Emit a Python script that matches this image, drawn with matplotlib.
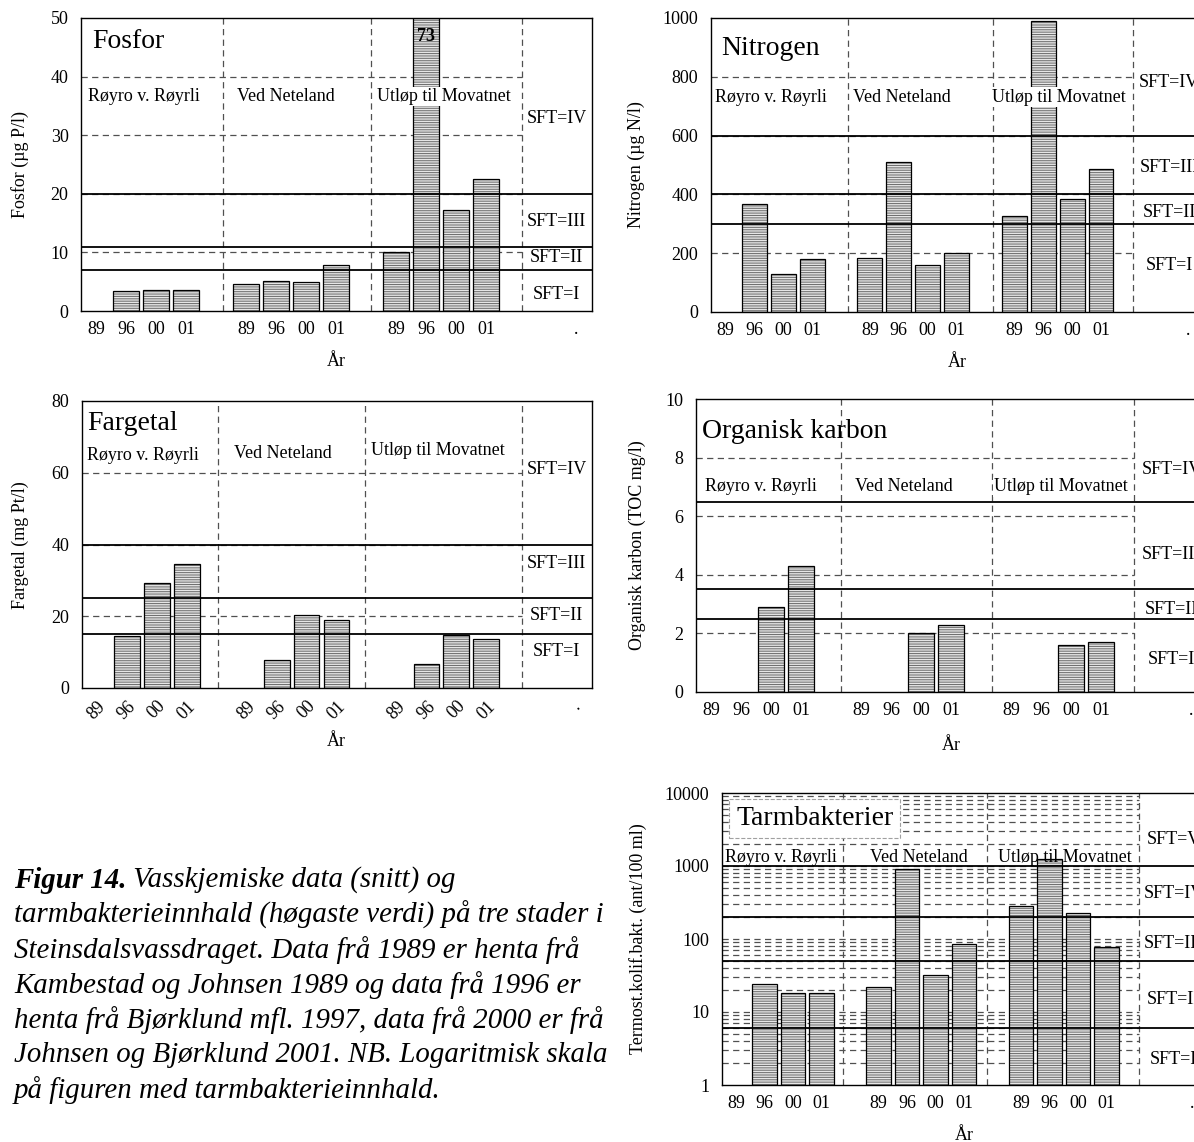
import numpy as np
import matplotlib
matplotlib.use('Agg')
import matplotlib.pyplot as plt
from matplotlib.ticker import FixedLocator, LogLocator, NullFormatter

plt.rcParams['font.family'] = ['Liberation Serif', 'DejaVu Serif']
plt.rcParams['hatch.linewidth'] = 0.75
plt.rcParams['hatch.color'] = '#707070'

# ---------------- data ----------------
years = ['89', '96', '00', '01']
stations = ['Røyro v. Røyrli', 'Ved Neteland', 'Utløp til Movatnet']
nan = np.nan
fosfor = [nan, 3.4, 3.6, 3.5, 4.6, 5.1, 4.9, 7.9, 10.0, 73.0, 17.2, 22.5]
nitrogen = [nan, 367, 129, 181, 183, 510, 161, 202, 326, 989, 385, 487]
fargetal = [nan, 14.4, 29.2, 34.7, nan, 7.7, 20.4, 18.9, nan, 6.8, 14.9, 13.6]
toc = [nan, nan, 2.9, 4.3, nan, nan, 2.0, 2.3, nan, nan, 1.6, 1.7]
tarm = [nan, 24, 18, 18, 22, 900, 32, 85, 280, 1260, 225, 77]

fosfor_sft = [7, 11, 20]
nitrogen_sft = [300, 400, 600]
fargetal_sft = [15, 25, 40]
toc_sft = [2.5, 3.5, 6.5]
tarm_sft = [6, 50, 200, 1000]
sft_names4 = ['SFT=I', 'SFT=II', 'SFT=III', 'SFT=IV']
sft_names5 = ['SFT=I', 'SFT=II', 'SFT=III', 'SFT=IV', 'SFT=V']

fosfor_ticks = [0, 10, 20, 30, 40, 50]
nitrogen_ticks = [0, 200, 400, 600, 800, 1000]
fargetal_ticks = [0, 20, 40, 60, 80]
toc_ticks = [0, 2, 4, 6, 8, 10]
tarm_ticks = [1, 10, 100, 1000, 10000]

caption_head = 'Figur 14.'
caption_lines = [
    ' Vasskjemiske data (snitt) og',
    'tarmbakterieinnhald (høgaste verdi) på tre stader i',
    'Steinsdalsvassdraget. Data frå 1989 er henta frå',
    'Kambestad og Johnsen 1989 og data frå 1996 er',
    'henta frå Bjørklund mfl. 1997, data frå 2000 er frå',
    'Johnsen og Bjørklund 2001. NB. Logaritmisk skala',
    'på figuren med tarmbakterieinnhald.',
]

# ---------------- layout helpers ----------------
W, H = 1194, 1142
fig = plt.figure(figsize=(W / 100, H / 100), dpi=100)
fig.patch.set_facecolor('white')

GROUP_STEP = 5
pos = np.array([g * GROUP_STEP + i for g in range(len(stations)) for i in range(len(years))], dtype=float)
tick_pos = list(pos) + [16]
tick_lab = years * len(stations) + ['.']
DASH = (0, (5, 3.5))
GRIDC = '#505050'
FS = 13
XMIN, XMAX = -0.5, 16.53


def make_ax(L, R, T, B):
    return fig.add_axes([L / W, 1 - B / H, (R - L) / W, (B - T) / H])


def panel(ax, values, ticks, sft, sft_names, sft_label_y, title, title_xy,
          st_x, st_y, seps, log=False, st_bbox=True, rotate=False):
    ax.set_xlim(XMIN, XMAX)
    gx1 = seps[-1]
    if log:
        ax.set_yscale('log')
        ax.set_ylim(ticks[0], ticks[-1])
        ax.yaxis.set_major_locator(FixedLocator(ticks))
        ax.yaxis.set_minor_locator(LogLocator(base=10, subs=np.arange(2, 10)))
        ax.yaxis.set_minor_formatter(NullFormatter())
        ax.set_yticklabels([str(t) for t in ticks])
        glines = list(ticks[1:-1]) + [ticks[d] * s for d in range(len(ticks) - 1) for s in range(2, 10)]
    else:
        ax.set_ylim(ticks[0], ticks[-1])
        ax.set_yticks(ticks)
        ax.set_yticklabels([str(t) for t in ticks])
        glines = list(ticks[1:-1])
    ax.hlines(glines, XMIN, gx1, linestyles=DASH, colors=GRIDC, lw=0.9, zorder=1)
    for sx in seps:
        ax.axvline(sx, ls=DASH, color=GRIDC, lw=0.9, zorder=1)

    ax.bar(pos, values, width=0.86, color='#e6e6e6', edgecolor='#707070',
           hatch='-------', lw=0, zorder=2)
    ax.bar(pos, values, width=0.86, color='none', edgecolor='black', lw=0.9, zorder=3)

    for v in sft:
        ax.axhline(v, color='black', lw=1.3, zorder=4)

    ax.set_xticks(tick_pos)
    if rotate:
        ax.set_xticklabels(tick_lab, rotation=45, ha='center')
    else:
        ax.set_xticklabels(tick_lab)
    ax.tick_params(axis='x', length=0, labelsize=FS, pad=7)
    ax.tick_params(axis='y', which='both', length=0, labelsize=FS, pad=9)
    for sp in ax.spines.values():
        sp.set_color('black')
        sp.set_linewidth(1.0)

    ax.text(title_xy[0], title_xy[1], title, fontsize=20, ha='left', va='center', zorder=6)
    for name, x, y in zip(stations, st_x, st_y):
        kw = dict(fontsize=FS, ha='left', va='center', zorder=6)
        if st_bbox:
            kw['bbox'] = dict(boxstyle='square,pad=0.08', fc='white', ec='none')
        ax.text(x, y, name, **kw)
    for name, y in zip(sft_names, sft_label_y):
        ax.text(15.35, y, name, fontsize=FS, ha='center', va='center', zorder=6, clip_on=False)


# ---------------- panels ----------------
ax1 = make_ax(81, 592, 18, 311)
panel(ax1, fosfor, fosfor_ticks, fosfor_sft, sft_names4, [2.9, 9.2, 15.3, 32.9],
      'Fosfor', (-0.11, 46.0), [-0.28, 4.69, 9.38], [36.6, 36.6, 36.6], [4.23, 9.17, 14.19])
ax1.text(11, 46.8, '73', fontsize=FS, fontweight='bold', ha='center', va='center', zorder=6)

ax2 = make_ax(711, 1203, 18, 312)
panel(ax2, nitrogen, nitrogen_ticks, nitrogen_sft, sft_names4, [158, 340, 493, 781],
      'Nitrogen', (-0.16, 895), [-0.35, 4.42, 9.23], [730, 730, 730], [4.25, 9.27, 14.09])

ax3 = make_ax(82, 592, 401, 688)
panel(ax3, fargetal, fargetal_ticks, fargetal_sft, sft_names4, [10.3, 20.2, 34.8, 61],
      'Fargetal', (-0.34, 73.6), [-0.34, 4.59, 9.16], [64.8, 65.5, 66.2], [4.03, 8.95, 14.19],
      rotate=True)

ax4 = make_ax(696, 1207, 399, 692)
panel(ax4, toc, toc_ticks, toc_sft, sft_names4, [1.1, 2.8, 4.7, 7.6],
      'Organisk karbon', (-0.31, 8.9), [-0.19, 4.79, 9.44], [7.0, 7.0, 7.0], [4.33, 9.38, 14.1])

ax5 = make_ax(722, 1207, 793, 1085)
panel(ax5, tarm, tarm_ticks, tarm_sft, sft_names5, [2.24, 14.7, 86, 420, 2300],
      'Tarmbakterier', (0.0, 4420), [-0.4, 4.68, 9.18], [1320, 1320, 1320], [3.76, 8.8, 14.15],
      log=True, st_bbox=False)
for t in ax5.texts:
    if t.get_text() == 'Tarmbakterier':
        t.set_bbox(dict(boxstyle='square,pad=0.25', fc='white', ec='#a0a0a0', ls='--', lw=0.8))


# y labels and x labels (figure pixel positions)
def ftext(x, y, s, **kw):
    return fig.text(x / W, 1 - y / H, s, **kw)


ylabels = [(20, 164, 'Fosfor (µg P/l)'), (636, 165, 'Nitrogen (µg N/l)'),
           (20, 545, 'Fargetal (mg Pt/l)'), (637, 545, 'Organisk karbon (TOC mg/l)'),
           (638, 939, 'Termost.kolif.bakt. (ant/100 ml)')]
for x, y, s in ylabels:
    ftext(x, y, s, rotation=90, ha='center', va='center', fontsize=FS)

for x, y in [(336, 362), (957, 363), (336, 742), (951, 745), (964, 1135)]:
    ftext(x, y, 'År', ha='center', va='center', fontsize=FS)

# caption
CAP_X = 14
cap_y = [880, 915, 950, 985, 1020, 1055, 1090]
CFS = 20.8
fig.canvas.draw()
r = fig.canvas.get_renderer()
head = ftext(CAP_X, cap_y[0], caption_head, fontsize=CFS, fontweight='bold',
             fontstyle='italic', ha='left', va='center')
wpx = head.get_window_extent(renderer=r).width
ftext(CAP_X + wpx, cap_y[0], caption_lines[0], fontsize=CFS, fontstyle='italic',
      ha='left', va='center')
for line, y in zip(caption_lines[1:], cap_y[1:]):
    ftext(CAP_X, y, line, fontsize=CFS, fontstyle='italic', ha='left', va='center')

fig.savefig('out.png', dpi=100, facecolor='white')
